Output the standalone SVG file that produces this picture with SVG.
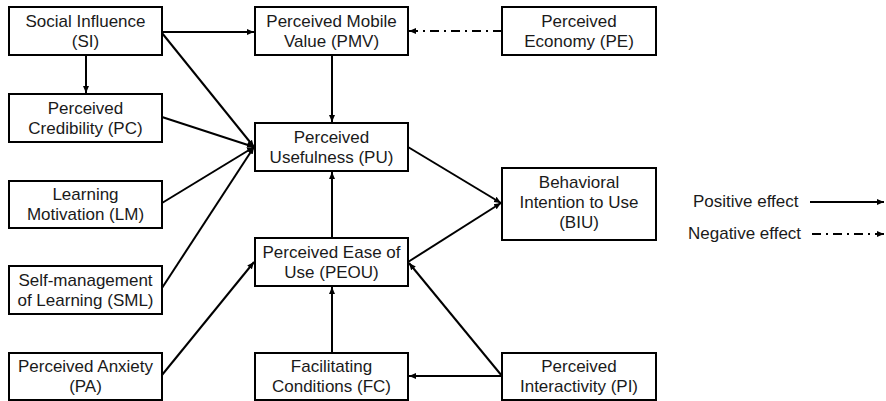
<svg xmlns="http://www.w3.org/2000/svg" width="886" height="401" viewBox="0 0 886 401">
  <style>
    .box { fill: #ffffff; stroke: #000000; stroke-width: 2; }
    .lbl { font-family: "Liberation Sans", Arial, sans-serif; font-size: 17px; fill: #1a1a1a; text-anchor: middle; }
    .leg { font-family: "Liberation Sans", Arial, sans-serif; font-size: 17px; fill: #1a1a1a; }
    .pos { stroke: #000000; stroke-width: 2; fill: none; marker-end: url(#arrow); }
    .neg { stroke: #000000; stroke-width: 2; fill: none; stroke-dasharray: 9 5 2 5; marker-end: url(#arrow); }
  </style>
  <defs>
    <marker id="arrow" markerUnits="userSpaceOnUse" markerWidth="8" markerHeight="8" viewBox="0 0 8 8" refX="7" refY="4" orient="auto">
      <path d="M0,1 L7,4 L0,7 Z" fill="#000000"/>
    </marker>
  </defs>
  <rect width="886" height="401" fill="#ffffff"/>

  <!-- connectors -->
  <g id="connectors">
    <line class="pos" x1="86" y1="55" x2="86" y2="93"/>
    <line class="pos" x1="162" y1="32" x2="254" y2="32"/>
    <line class="pos" x1="162" y1="33" x2="254" y2="147"/>
    <line class="pos" x1="162" y1="117" x2="254" y2="147"/>
    <line class="pos" x1="162" y1="203" x2="254" y2="147"/>
    <line class="pos" x1="162" y1="288" x2="254" y2="147"/>
    <line class="pos" x1="162" y1="375" x2="254" y2="262"/>
    <line class="neg" x1="502" y1="31" x2="409" y2="31"/>
    <line class="pos" x1="332" y1="55" x2="332" y2="122"/>
    <line class="pos" x1="332" y1="238" x2="332" y2="172"/>
    <line class="pos" x1="332" y1="353" x2="332" y2="287"/>
    <line class="pos" x1="408" y1="147" x2="501" y2="203"/>
    <line class="pos" x1="408" y1="262" x2="501" y2="203"/>
    <line class="pos" x1="502" y1="376" x2="409" y2="263"/>
    <line class="pos" x1="502" y1="376" x2="409" y2="376"/>
  </g>

  <!-- nodes -->
  <g id="SI">
    <rect class="box" x="9" y="7" width="153" height="48"/>
    <text class="lbl" x="85.5" y="27">Social Influence</text>
    <text class="lbl" x="85.5" y="47">(SI)</text>
  </g>
  <g id="PC">
    <rect class="box" x="9" y="94" width="153" height="48"/>
    <text class="lbl" x="85.5" y="114">Perceived</text>
    <text class="lbl" x="85.5" y="134">Credibility (PC)</text>
  </g>
  <g id="LM">
    <rect class="box" x="9" y="181" width="153" height="47"/>
    <text class="lbl" x="85.5" y="200">Learning</text>
    <text class="lbl" x="85.5" y="220">Motivation (LM)</text>
  </g>
  <g id="SML">
    <rect class="box" x="9" y="266" width="153" height="48"/>
    <text class="lbl" x="85.5" y="286">Self-management</text>
    <text class="lbl" x="85.5" y="306">of Learning (SML)</text>
  </g>
  <g id="PA">
    <rect class="box" x="9" y="353" width="153" height="47"/>
    <text class="lbl" x="85.5" y="372">Perceived Anxiety</text>
    <text class="lbl" x="85.5" y="392">(PA)</text>
  </g>
  <g id="PMV">
    <rect class="box" x="255" y="7" width="153" height="48"/>
    <text class="lbl" x="331.5" y="27">Perceived Mobile</text>
    <text class="lbl" x="331.5" y="47">Value (PMV)</text>
  </g>
  <g id="PU">
    <rect class="box" x="255" y="123" width="153" height="48"/>
    <text class="lbl" x="331.5" y="143">Perceived</text>
    <text class="lbl" x="331.5" y="163">Usefulness (PU)</text>
  </g>
  <g id="PEOU">
    <rect class="box" x="255" y="238" width="153" height="48"/>
    <text class="lbl" x="331.5" y="258">Perceived Ease of</text>
    <text class="lbl" x="331.5" y="278">Use (PEOU)</text>
  </g>
  <g id="FC">
    <rect class="box" x="255" y="353" width="153" height="47"/>
    <text class="lbl" x="331.5" y="372">Facilitating</text>
    <text class="lbl" x="331.5" y="392">Conditions (FC)</text>
  </g>
  <g id="PE">
    <rect class="box" x="502" y="7" width="154" height="48"/>
    <text class="lbl" x="579" y="27">Perceived</text>
    <text class="lbl" x="579" y="47">Economy (PE)</text>
  </g>
  <g id="BIU">
    <rect class="box" x="502" y="168" width="154" height="72"/>
    <text class="lbl" x="579" y="188">Behavioral</text>
    <text class="lbl" x="579" y="208">Intention to Use</text>
    <text class="lbl" x="579" y="228">(BIU)</text>
  </g>
  <g id="PI">
    <rect class="box" x="502" y="353" width="154" height="47"/>
    <text class="lbl" x="579" y="372">Perceived</text>
    <text class="lbl" x="579" y="392">Interactivity (PI)</text>
  </g>

  <!-- legend -->
  <g id="legend">
    <text class="leg" x="693" y="207">Positive effect</text>
    <line class="pos" x1="810" y1="202" x2="884" y2="202"/>
    <text class="leg" x="688" y="239">Negative effect</text>
    <line class="neg" x1="812" y1="234" x2="884" y2="234"/>
  </g>
</svg>
